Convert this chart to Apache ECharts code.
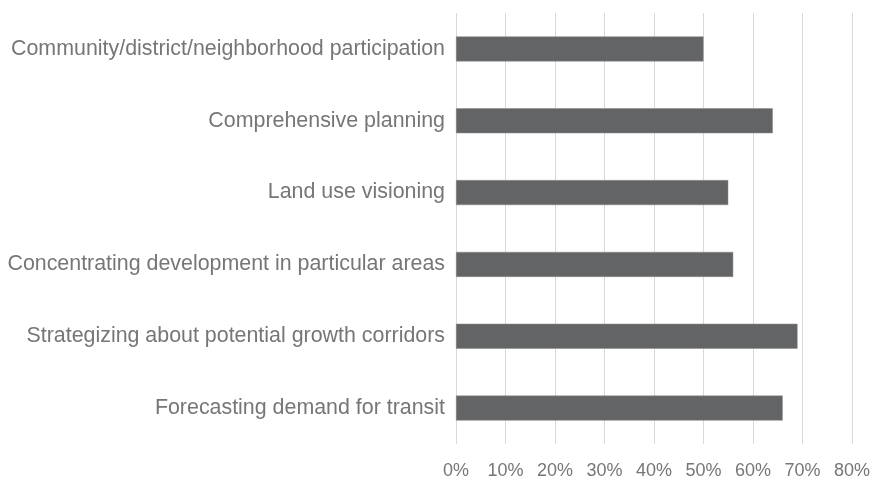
<!DOCTYPE html>
<html>
<head>
<meta charset="utf-8">
<script src="https://cdn.jsdelivr.net/npm/echarts@6/dist/echarts.min.js"></script>
<style>
    html, body { margin: 0; padding: 0; background: #fff; }
    #chart { width: 874px; height: 480px; }
</style>
</head>
<body>
<div id="chart"></div>
<script>
// categories listed bottom to top (category axis starts at the bottom)
const categories = [
    'Forecasting demand for transit',
    'Strategizing about potential growth corridors',
    'Concentrating development in particular areas',
    'Land use visioning',
    'Comprehensive planning',
    'Community/district/neighborhood participation'
];
const shares = [66, 69, 56, 55, 64, 50];

const chart = echarts.init(document.getElementById('chart'));
const option = {
    animation: false,
    backgroundColor: '#fff',
    grid: {
        left: 456,
        right: 22,
        top: 13,
        bottom: 35
    },
    xAxis: {
        type: 'value',
        min: 0,
        max: 80,
        interval: 10,
        axisLine: { show: false },
        axisTick: { show: false },
        splitLine: {
            lineStyle: { color: '#d9d9d9', width: 1 }
        },
        axisLabel: {
            margin: 18,
            color: '#767676',
            fontSize: 18,
            fontFamily: 'Liberation Sans',
            formatter: v => v + '%'
        }
    },
    yAxis: {
        type: 'category',
        data: categories,
        axisLine: { show: false },
        axisTick: { show: false },
        axisLabel: {
            margin: 11,
            color: '#767676',
            fontSize: 21.4,
            fontFamily: 'Liberation Sans'
        }
    },
    series: [
        {
            type: 'bar',
            data: shares,
            barWidth: 25,
            itemStyle: {
                color: '#636466',
                borderColor: '#8a8a8a',
                borderWidth: 0.5
            }
        }
    ]
};
chart.setOption(option);
</script>
</body>
</html>
